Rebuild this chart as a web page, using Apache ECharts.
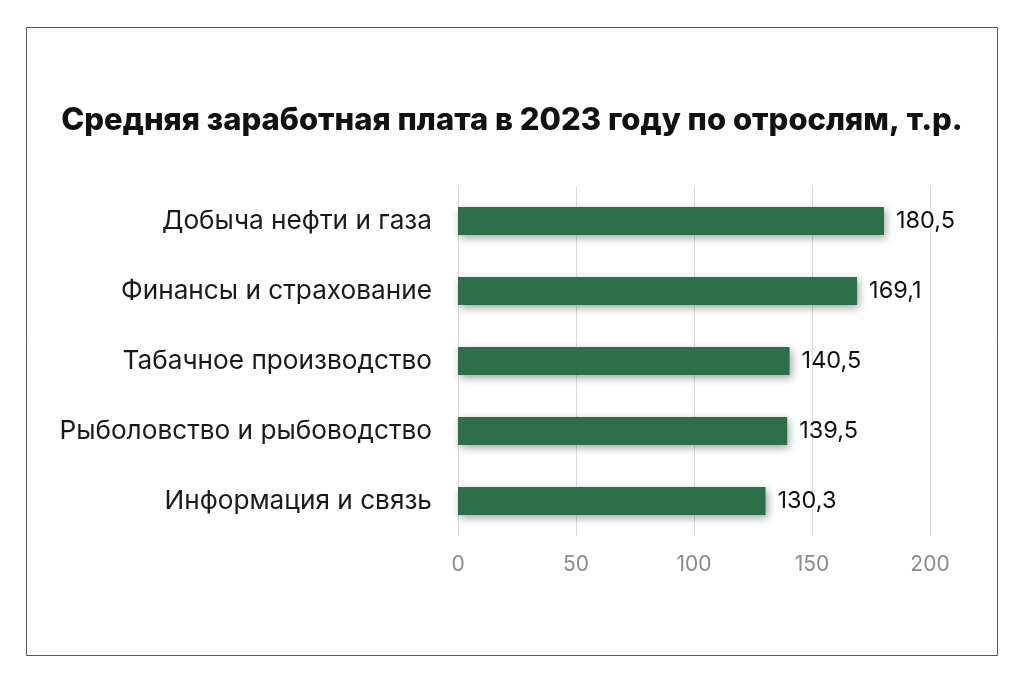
<!DOCTYPE html>
<html><head><meta charset="utf-8">
<script src="https://cdn.jsdelivr.net/npm/echarts@6/dist/echarts.min.js"></script>
<style>html,body{margin:0;padding:0;background:#fff}#c{width:1024px;height:683px}</style>
</head><body><div id="c"></div>
<script>
const categories = ['Добыча нефти и газа','Финансы и страхование','Табачное производство','Рыболовство и рыбоводство','Информация и связь'];
const values = [180.5, 169.1, 140.5, 139.5, 130.3];
const titleText = 'Средняя заработная плата в 2023 году по отрослям, т.р.';

const chart = echarts.init(document.getElementById('c'));
chart.setOption({
  backgroundColor: '#fff',
  graphic: [{type:'rect', shape:{x:26.5,y:27.5,width:971,height:628}, style:{fill:'none', stroke:'#5a5a5a', lineWidth:1}, silent:true}],
  title: {text: titleText, left: 'center', top: 100, textStyle:{fontFamily:'Inter', fontWeight:800, fontSize:31, color:'#111'}},
  grid: {left: 458, right: 94, top: 186, bottom: 147},
  xAxis: {type:'value', min:0, max:200, interval:50,
    axisLine:{show:false}, axisTick:{show:false},
    axisLabel:{color:'#8a8a8a', fontSize:21, fontFamily:'Inter', margin:18},
    splitLine:{lineStyle:{color:'#dcdcdc', width:1}}},
  yAxis: {type:'category', inverse:true, data: categories,
    axisLine:{show:false}, axisTick:{show:false},
    axisLabel:{color:'#1a1a1a', fontSize:26.2, fontFamily:'Inter', margin:26}},
  series: [{type:'bar', data: values, barWidth:28,
    itemStyle:{color:'#2d6e4b', shadowColor:'rgba(0,0,0,0.35)', shadowBlur:8, shadowOffsetX:2, shadowOffsetY:3},
    label:{show:true, position:'right', distance:12, color:'#111', fontSize:23.5, fontFamily:'Inter',
      formatter: p => String(p.value).replace('.', ',')}}]
});
</script></body></html>
